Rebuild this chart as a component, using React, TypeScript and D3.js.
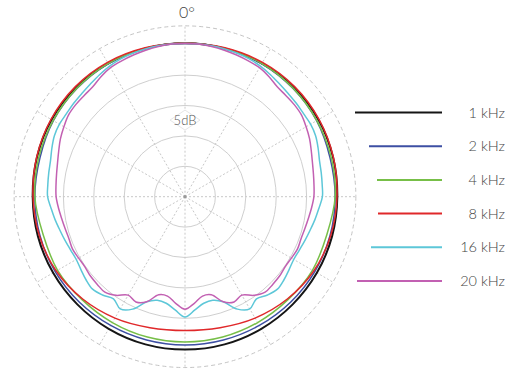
import React from 'react';
import * as d3 from 'd3';

// ---- data (dB) ----
const seriesNames = ['1 kHz', '2 kHz', '4 kHz', '8 kHz', '16 kHz', '20 kHz'];
const seriesColors = ['#151515', '#3d4fa3', '#77bf48', '#e0282a', '#5dc7d8', '#c260b2'];

// 15° steps, clockwise from 0°
const coarseAngles = d3.range(0, 360, 15);
const db1k = [0.25, 0.25, 0.3, 0.35, 0.35, 0.2, 0.05, 0.05, 0.05, 0.05, 0.1, 0.15, 0.15, 0.15, 0.1, 0.05, 0.05, 0.05, 0.05, 0.2, 0.35, 0.35, 0.3, 0.25];
const db2k = [0.25, 0.25, 0.25, 0.15, 0.0, -0.3, -0.3, -0.3, -0.35, -0.45, -0.55, -0.6, -0.6, -0.6, -0.55, -0.45, -0.35, -0.3, -0.3, -0.3, 0.0, 0.15, 0.25, 0.25];
const db4k = [0.25, 0.25, 0.3, 0.2, 0.05, -0.1, -0.3, -0.85, -0.8, -1.05, -1.1, -1.1, -1.1, -1.1, -1.1, -1.05, -0.8, -0.85, -0.3, -0.1, 0.05, 0.2, 0.3, 0.25];
const db8k = [0.25, 0.35, 0.5, 0.55, 0.45, 0.25, 0.0, -0.2, -0.55, -1.2, -1.95, -2.7, -3.0, -2.7, -1.95, -1.2, -0.55, -0.2, 0.0, 0.25, 0.45, 0.55, 0.5, 0.35];

// 5° steps, clockwise from 0°
const fineAngles = d3.range(0, 360, 5);
const db16k = [0.2, 0.2, 0.2, 0.15, 0.1, 0.0, -0.2, -0.5, -0.8, -1.0, -1.1, -1.2, -1.15, -1.3, -1.7, -2.1, -2.25, -2.35, -2.4, -2.9, -3.3, -3.7, -4.0, -4.25, -4.35, -4.1, -3.75, -3.5, -3.9, -4.5, -3.7, -4.6, -6.6, -7.35, -7.2, -6.3, -5.2,
  -6.3, -7.2, -7.35, -6.6, -4.6, -3.7, -4.5, -3.9, -3.5, -3.75, -4.1, -4.35, -4.25, -4.0, -3.7, -3.3, -2.9, -2.4, -2.35, -2.25, -2.1, -1.7, -1.3, -1.15, -1.2, -1.1, -1.0, -0.8, -0.5, -0.2, 0.0, 0.1, 0.15, 0.2, 0.2];
const db20k = [0.2, 0.2, 0.1, -0.05, -0.2, -0.35, -0.5, -0.9, -1.4, -1.5, -1.5, -1.6, -2.0, -2.4, -2.9, -3.3, -3.55, -3.7, -3.8, -4.1, -4.4, -4.6, -4.7, -4.6, -4.8, -4.9, -4.7, -4.6, -4.5, -5.2, -6.3, -5.9, -6.6, -8.3, -8.4, -7.4, -6.5,
  -7.4, -8.4, -8.3, -6.6, -5.9, -6.3, -5.2, -4.5, -4.6, -4.7, -4.9, -4.8, -4.6, -4.7, -4.6, -4.4, -4.1, -3.8, -3.7, -3.55, -3.3, -2.9, -2.4, -2.0, -1.6, -1.5, -1.5, -1.4, -0.9, -0.5, -0.35, -0.2, -0.05, 0.1, 0.2];

const ringValues = [-20, -15, -10, -5];
const spokeAngles = d3.range(0, 360, 30);
const frameDb = 3.1;
const ringLabel = '5dB';
const topLabel = '0°';

const seriesData = [
  { angles: coarseAngles, values: db1k },
  { angles: coarseAngles, values: db2k },
  { angles: coarseAngles, values: db4k },
  { angles: coarseAngles, values: db8k },
  { angles: fineAngles, values: db16k },
  { angles: fineAngles, values: db20k },
];

// ---- layout ----
const W = 519, H = 373;
const cx = 185, cy = 196.7;
const legendLineEnd = 442;
const legendLineStart = [355, 369, 377, 378, 371, 357];
const legendY0 = 112.5, legendDy = 33.7;
const legendTextX = 505;

export default function App() {
  const r = d3.scaleLinear().domain([-25, 0]).range([0, 152]);
  const rad = (deg: number) => (deg * Math.PI) / 180;
  const line = d3
    .lineRadial<[number, number]>()
    .angle((d) => rad(d[0]))
    .radius((d) => r(d[1]))
    .curve(d3.curveCatmullRomClosed.alpha(0.5));
  const outerR = r(frameDb);
  const font = "Lato, 'Open Sans', sans-serif";

  return (
    <svg width={W} height={H} style={{ position: 'absolute', left: 0, top: 0, background: '#fff' }}>
      <g transform={`translate(${cx},${cy})`}>
        {ringValues.map((v) => (
          <circle key={v} r={r(v)} fill="none" stroke="#cfcfcf" strokeWidth={1} />
        ))}
        {spokeAngles.map((a) => (
          <line
            key={a}
            x1={0}
            y1={0}
            x2={outerR * Math.sin(rad(a))}
            y2={-outerR * Math.cos(rad(a))}
            stroke="#c8c8c8"
            strokeWidth={1}
            strokeDasharray="2,2"
          />
        ))}
        <circle r={outerR} fill="none" stroke="#c4c4c4" strokeWidth={1} strokeDasharray="4,3" />
        <circle r={1.6} fill="#999" />
        <g transform={`translate(0,${-r(-12.4)})`}>
          <polygon points="-15,0 0,-10 15,0 0,10" fill="#fff" stroke="#e6e6e6" strokeWidth={1} />
          <text x={0} y={4.5} textAnchor="middle" fontFamily={font} fontWeight={300} fontSize={13} fill="#555">
            {ringLabel}
          </text>
        </g>
        {seriesData.map((s, i) => (
          <path
            key={seriesNames[i]}
            d={line(s.angles.map((a, k) => [a, s.values[k]] as [number, number])) || ''}
            fill="none"
            stroke={seriesColors[i]}
            strokeWidth={i === 0 ? 2 : 1.5}
          />
        ))}
      </g>
      <text x={187} y={17.5} textAnchor="middle" fontFamily={font} fontWeight={300} fontSize={16} fill="#444">
        {topLabel}
      </text>
      {seriesNames.map((n, i) => {
        const y = legendY0 + i * legendDy;
        return (
          <g key={n}>
            <line x1={legendLineStart[i]} x2={legendLineEnd} y1={y} y2={y} stroke={seriesColors[i]} strokeWidth={2} />
            <text x={legendTextX} y={y + 5} textAnchor="end" fontFamily={font} fontWeight={300} fontSize={14.5} fill="#444">
              {n}
            </text>
          </g>
        );
      })}
    </svg>
  );
}
